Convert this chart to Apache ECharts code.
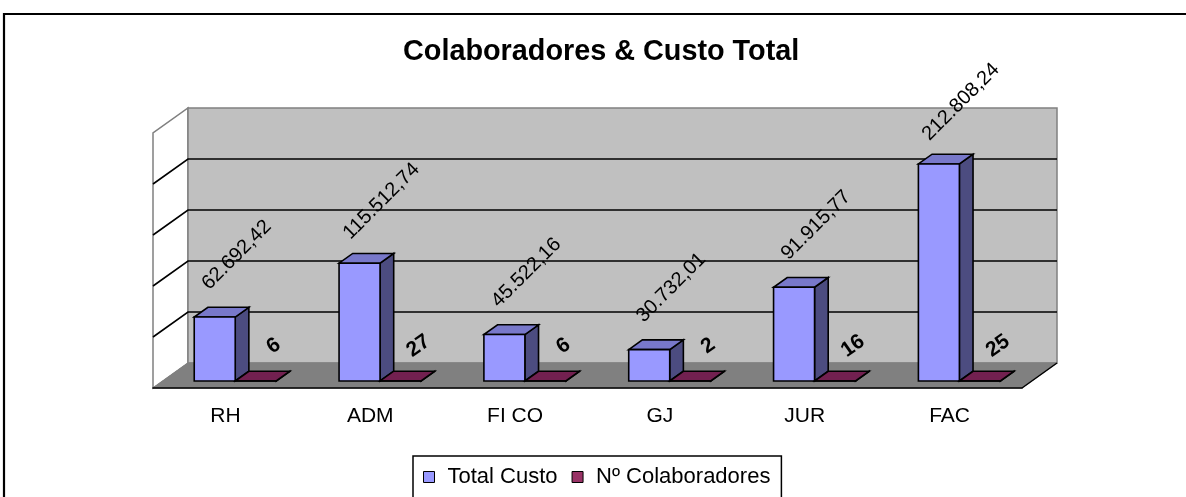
<!DOCTYPE html>
<html><head><meta charset="utf-8">
<script src="https://cdn.jsdelivr.net/npm/echarts@6/dist/echarts.min.js"></script>
<style>html,body{margin:0;padding:0;background:#fff}#c{width:1186px;height:497px}</style>
</head><body><div id="c"></div><script>
// ---- data ----
const categories = ['RH', 'ADM', 'FI CO', 'GJ', 'JUR', 'FAC'];
const totalCusto = [62692.42, 115512.74, 45522.16, 30732.01, 91915.77, 212808.24];
const colaboradores = [6, 27, 6, 2, 16, 25];
const seriesNames = ['Total Custo', 'Nº Colaboradores'];
const titleText = 'Colaboradores & Custo Total';
const yMin = 0, yMax = 250000, yStep = 50000;

// ---- style / 3D geometry ----
const FONT = '"Liberation Sans", Arial, sans-serif';
const DX = 35, DY = -25;          // full depth vector of the floor
const F0 = 0.28, F1 = 0.67;       // bar front / back depth fraction
const BAR_FRAC = 0.283;           // bar width as fraction of band
const COLORS = {
  blue: { front: '#9999FF', top: '#7878CA', side: '#4C4C80' },
  purple: { front: '#993366', top: '#722050', side: '#4D1A33' }
};

function fmtPt(v) {
  const parts = v.toFixed(2).split('.');
  return parts[0].replace(/\B(?=(\d{3})+(?!\d))/g, '.') + ',' + parts[1];
}

function renderWalls(params, api) {
  const bw = api.size([1, 0])[0];
  const x0 = api.coord([0, yMin])[0] - bw / 2;
  const x1 = api.coord([categories.length - 1, yMin])[0] + bw / 2;
  const yb = api.coord([0, yMin])[1];
  const yt = api.coord([0, yMax])[1];
  const ch = [];
  ch.push({ type: 'polygon', shape: { points: [[x0, yb], [x0 + DX, yb + DY], [x0 + DX, yt + DY], [x0, yt]] },
    style: { fill: '#FFFFFF', stroke: '#808080', lineWidth: 1.5 } });
  ch.push({ type: 'polygon', shape: { points: [[x0 + DX, yt + DY], [x1 + DX, yt + DY], [x1 + DX, yb + DY], [x0 + DX, yb + DY]] },
    style: { fill: '#C0C0C0', stroke: '#808080', lineWidth: 1.5 } });
  ch.push({ type: 'polygon', shape: { points: [[x0, yb], [x1, yb], [x1 + DX, yb + DY], [x0 + DX, yb + DY]] },
    style: { fill: '#808080', stroke: '#808080', lineWidth: 1 } });
  for (let v = yMin + yStep; v < yMax; v += yStep) {
    const y = api.coord([0, v])[1];
    ch.push({ type: 'polyline', shape: { points: [[x0, y], [x0 + DX, y + DY], [x1 + DX, y + DY]] },
      style: { stroke: '#000', lineWidth: 1.6, fill: null } });
  }
  ch.push({ type: 'polyline', shape: { points: [[x1, yb], [x1 + DX, yb + DY]] },
    style: { stroke: '#000', lineWidth: 1.5, fill: null } });
  return { type: 'group', children: ch };
}

function makeBarRenderer(slot, col, labelCfg) {
  return function (params, api) {
    const ci = api.value(0), v = api.value(1);
    const bw = api.size([1, 0])[0];
    const w = bw * BAR_FRAC;
    const base = api.coord([ci, yMin]);
    const top = api.coord([ci, v]);
    const fx = DX * F0, fy = DY * F0;
    const sx = DX * (F1 - F0), sy = DY * (F1 - F0);
    const xl = base[0] + slot * w + fx, xr = xl + w;
    const yb = base[1] + fy, yt = top[1] + fy;
    const ln = { stroke: '#000', lineWidth: 1.6 };
    const ch = [
      { type: 'polygon', shape: { points: [[xr, yb], [xr + sx, yb + sy], [xr + sx, yt + sy], [xr, yt]] },
        style: Object.assign({ fill: col.side }, ln) },
      { type: 'polygon', shape: { points: [[xl, yt], [xr, yt], [xr + sx, yt + sy], [xl + sx, yt + sy]] },
        style: Object.assign({ fill: col.top }, ln) },
      { type: 'polygon', shape: { points: [[xl, yb], [xr, yb], [xr, yt], [xl, yt]] },
        style: Object.assign({ fill: col.front }, ln) },
      { type: 'text', x: (xl + xr) / 2 + labelCfg.dx, y: yt + labelCfg.dy,
        rotation: labelCfg.rot * Math.PI / 180,
        style: { text: labelCfg.fmt(v), fill: '#000', font: labelCfg.font, align: 'center', verticalAlign: 'middle' } }
    ];
    return { type: 'group', children: ch };
  };
}

const chart = echarts.init(document.getElementById('c'), null, { renderer: 'canvas' });
chart.setOption({
  animation: false,
  backgroundColor: '#FFFFFF',
  title: { text: titleText, left: 403, top: 38, padding: 0,
    textStyle: { fontFamily: FONT, fontSize: 28.8, fontWeight: 'bold', color: '#000' } },
  legend: {
    data: seriesNames, left: 413, top: 456, orient: 'horizontal',
    padding: [10, 11, 40, 10], itemGap: 14, itemWidth: 11, itemHeight: 11, icon: 'rect',
    borderColor: '#000', borderWidth: 1.5, backgroundColor: '#fff',
    itemStyle: { borderColor: '#000', borderWidth: 1 },
    textStyle: { fontFamily: FONT, fontSize: 22, color: '#000', padding: [0, 0, 0, 8] }
  },
  grid: { left: 153, right: 164, top: 133, bottom: 109, containLabel: false },
  xAxis: {
    type: 'category', data: categories, z: 10,
    axisLine: { lineStyle: { color: '#000', width: 1.6 } },
    axisTick: { length: 6, lineStyle: { color: '#000', width: 1.6 } },
    axisLabel: { fontFamily: FONT, fontSize: 21, color: '#000', margin: 18 },
    splitLine: { show: false }
  },
  yAxis: { type: 'value', min: yMin, max: yMax, interval: yStep, show: false },
  graphic: [{ type: 'rect', z: 100, shape: { x: 4, y: 14, width: 1400, height: 700 },
    style: { fill: 'none', stroke: '#000', lineWidth: 2.2 } }],
  series: [
    { type: 'custom', name: '_walls', silent: true, z: 0, renderItem: renderWalls,
      data: [[0, yMin]], encode: { x: 0, y: 1 } },
    { type: 'custom', name: seriesNames[0], z: 2, itemStyle: { color: COLORS.blue.front },
      renderItem: makeBarRenderer(-1, COLORS.blue, { dx: 22, dy: -62, rot: 45, font: '20px ' + FONT, fmt: fmtPt }),
      data: categories.map((c, i) => [i, totalCusto[i]]), encode: { x: 0, y: 1 } },
    { type: 'custom', name: seriesNames[1], z: 3, itemStyle: { color: COLORS.purple.front },
      renderItem: makeBarRenderer(0, COLORS.purple, { dx: 18, dy: -35, rot: 35, font: 'bold 21px ' + FONT, fmt: v => String(v) }),
      data: categories.map((c, i) => [i, colaboradores[i]]), encode: { x: 0, y: 1 } }
  ]
});
</script></body></html>
